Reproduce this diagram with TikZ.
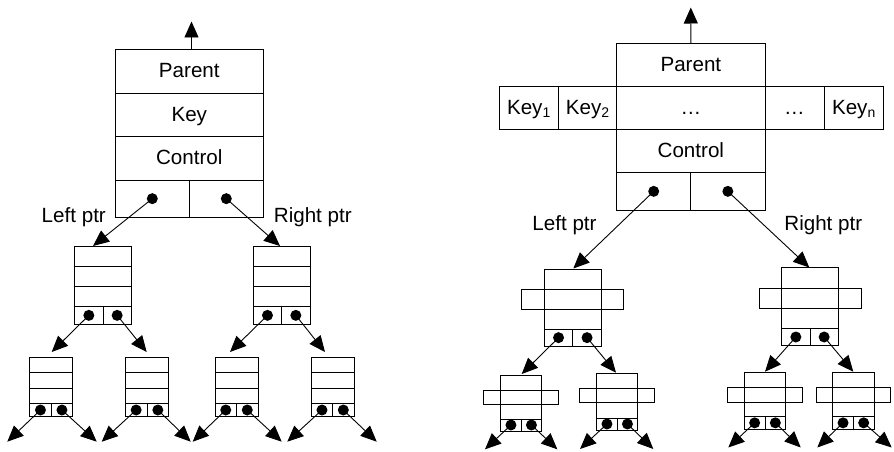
\documentclass[tikz,border=0pt]{standalone}
\usepackage{fontspec}
\setmainfont{Liberation Sans}
\usetikzlibrary{arrows.meta,fit}

% a drawn cell whose corners are (#2,#3) and (#4,#5)
\newcommand\cell[5]{\node[box,fit={(#2,#3) (#4,#5)}] (#1) {};}
% a drawn cell with a centred caption
\newcommand\tcell[6]{\cell{#1}{#2}{#3}{#4}{#5}\node[lbl] (#1-t) at (#1.center) {#6};}
% lowered small index, as in Key_1
\newcommand\sbs[1]{\raisebox{-3pt}{\fontsize{14}{14}\selectfont #1}}

% record with three stacked fields and a row of two pointers
% #1 name, #2 left, #3 right, #4..#8 row edges from top to bottom
\newcommand\plainrec[8]{%
  \pgfmathsetmacro\xm{(#2+#3)/2}%
  \cell{#1-a}{#2}{#4}{#3}{#5}%
  \cell{#1-b}{#2}{#5}{#3}{#6}%
  \cell{#1-c}{#2}{#6}{#3}{#7}%
  \cell{#1-l}{#2}{#7}{\xm}{#8}%
  \cell{#1-r}{\xm}{#7}{#3}{#8}%
  \node[dot] (#1-dl) at (#1-l.center) {};%
  \node[dot] (#1-dr) at (#1-r.center) {};}

% record with a key bar sticking out on both sides
% #1 name, #2 left, #3 right, #4 top, #5/#6 bar top/bottom,
% #7/#8 pointer row top/bottom, #9 overhang of the bar
\newcommand\barrec[9]{%
  \pgfmathsetmacro\xm{(#2+#3)/2}%
  \pgfmathsetmacro\bl{#2-#9}%
  \pgfmathsetmacro\br{#3+#9}%
  \cell{#1-body}{#2}{#4}{#3}{#7}%
  \cell{#1-bar}{\bl}{#5}{\br}{#6}%
  \cell{#1-l}{#2}{#7}{\xm}{#8}%
  \cell{#1-r}{\xm}{#7}{#3}{#8}%
  \node[dot] (#1-dl) at (#1-l.center) {};%
  \node[dot] (#1-dr) at (#1-r.center) {};}

% the two child pointers of a record
\newcommand\kids[5]{%
  \coordinate (#1-tl) at (#2,#3);
  \coordinate (#1-tr) at (#4,#5);
  \draw[ptr] (#1-dl.center) -- (#1-tl);
  \draw[ptr] (#1-dr.center) -- (#1-tr);}

\begin{document}
\begin{tikzpicture}[x=1pt,y=-1pt,
  font=\fontsize{20.6}{24}\selectfont,
  box/.style={draw,line width=1pt,inner sep=0pt,outer sep=0pt,rectangle},
  lbl/.style={inner sep=0pt,text height=15pt,text depth=3pt},
  dot/.style={circle,fill=black,inner sep=0pt,minimum size=11pt},
  ptr/.style={line width=0.9pt,-{Triangle[length=16pt,width=14pt]}}]
\fill[white] (0,0) rectangle (894,452);
\useasboundingbox (0,0) rectangle (894,452);

% ---------- binary node layout ----------
\tcell{R-a}{115.3}{50}{263.3}{93.3}{Parent}
\tcell{R-b}{115.3}{93.3}{263.3}{136.7}{Key}
\tcell{R-c}{115.3}{136.7}{263.3}{180}{Control}
\cell{R-l}{115.3}{180}{189.3}{217.3}
\cell{R-r}{189.3}{180}{263.3}{217.3}
\node[dot] (R-dl) at (R-l.center) {};
\node[dot] (R-dr) at (R-r.center) {};
\coordinate (R-up) at (191.5,21.5);
\draw[ptr] (R-up |- R-a.north) -- (R-up);
\node[lbl] (R-lname) at (73.8,216.7) {Left ptr};
\node[lbl] (R-rname) at (312.8,216.7) {Right ptr};

\plainrec{ML}{74.7}{131.3}{246.7}{266.7}{286.7}{306.7}{324}
\plainrec{MR}{253.3}{310}{246.7}{266.7}{286.7}{306.7}{324}
\plainrec{S1}{29.7}{72.7}{357.3}{372.7}{388.3}{403.3}{416.7}
\plainrec{S2}{125.3}{168.7}{357.3}{372.7}{388.3}{403.3}{416.7}
\plainrec{S3}{215}{258}{357.3}{372.7}{388.3}{403.3}{416.7}
\plainrec{S4}{311.3}{354}{357.3}{372.7}{388.3}{403.3}{416.7}

\kids{R}{93}{246}{280}{246}
\kids{ML}{51.7}{352}{146.7}{352}
\kids{MR}{230}{352}{325}{352}
\kids{S1}{7.3}{441.7}{96.7}{441.7}
\kids{S2}{101.7}{441.7}{190.7}{441.7}
\kids{S3}{192.7}{441.7}{281.7}{441.7}
\kids{S4}{287.3}{441.7}{376.7}{441.7}

% ---------- multi-key node layout ----------
\tcell{Q-a}{616.7}{43.3}{765}{86.7}{Parent}
\tcell{Q-b}{616.7}{86.7}{765}{129.3}{…}
\tcell{Q-c}{616.7}{129.3}{765}{172.7}{Control}
\cell{Q-l}{616.7}{172.7}{690.7}{210}
\cell{Q-r}{690.7}{172.7}{765}{210}
\tcell{K1}{499}{86.7}{558.3}{129.3}{Key\sbs{1}}
\tcell{K2}{558.3}{86.7}{616.7}{129.3}{Key\sbs{2}}
\tcell{K3}{765}{86.7}{824}{129.3}{…}
\tcell{Kn}{824}{86.7}{883.3}{129.3}{Key\sbs{n}}
\node[dot] (Q-dl) at (Q-l.center) {};
\node[dot] (Q-dr) at (Q-r.center) {};
\coordinate (Q-up) at (690.8,7.5);
\draw[ptr] (Q-a.north) -- (Q-up);
\node[lbl] (Q-lname) at (564.5,224.7) {Left ptr};
\node[lbl] (Q-rname) at (823.3,224.7) {Right ptr};

\barrec{N1}{544.3}{601.3}{269.3}{289.3}{309.3}{329.3}{346}{22.6}
\barrec{N2}{781.7}{838.3}{267.7}{288}{308.3}{328.3}{345.7}{22.7}
\barrec{T1}{500.7}{541.7}{375}{390.3}{404.3}{419}{431}{16.8}
\barrec{T2}{596.7}{637.7}{373.3}{388.3}{402.7}{418}{430}{16.8}
\barrec{T3}{744.3}{785.7}{372.7}{387.3}{402}{416.7}{429}{16.8}
\barrec{T4}{832.7}{874}{372.7}{387.3}{402}{416.7}{429}{16.5}

\kids{Q}{573.3}{268.5}{809.3}{267.5}
\kids{N1}{521.7}{374}{616}{372.7}
\kids{N2}{765}{371.7}{853.3}{371.7}
\kids{T1}{485}{449.3}{557.3}{449.3}
\kids{T2}{580}{449}{653.3}{449}
\kids{T3}{728.3}{447.5}{800.7}{447.5}
\kids{T4}{817.3}{447.5}{891.7}{447.5}
\end{tikzpicture}
\end{document}
